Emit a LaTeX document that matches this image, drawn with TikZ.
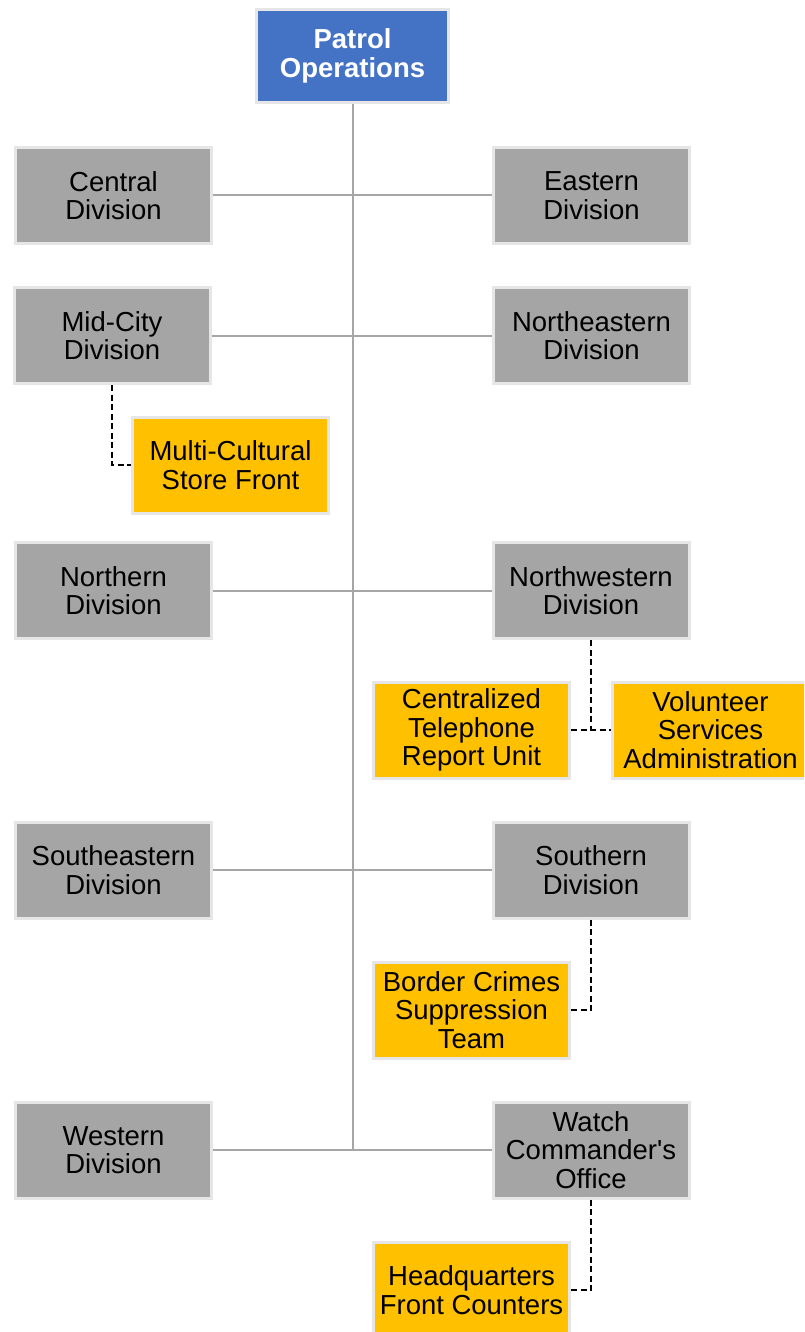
\documentclass[tikz,border=0pt]{standalone}
\usepackage{fontspec}
\newfontfamily\arialfont{Liberation Sans}
\definecolor{boxgray}{HTML}{A5A5A5}
\definecolor{boxgold}{HTML}{FFC000}
\definecolor{boxblue}{HTML}{4472C4}
\definecolor{edgegray}{HTML}{E6E6E6}
\definecolor{linegray}{HTML}{A6A6A6}
\tikzset{
  unit/.style={draw=edgegray, line width=3pt, inner sep=0pt, minimum width=196pt, minimum height=96pt,
    align=center, font=\arialfont\fontsize{27.5}{28.6}\selectfont, text=black},
  div/.style={unit, fill=boxgray},
  sub/.style={unit, fill=boxgold},
  topbox/.style={unit, fill=boxblue, text=white, font=\arialfont\fontsize{27.5}{28.6}\selectfont\bfseries,
    minimum width=192pt, minimum height=93pt},
  conn/.style={draw=linegray, line width=2pt},
  dline/.style={draw=black, line width=2pt, dash pattern=on 6pt off 3.5pt}
}
\begin{document}
\begin{tikzpicture}[x=1pt,y=-1pt]
\useasboundingbox (0,0) rectangle (804,1332);
\clip (0,0) rectangle (804,1332);
% nodes
\node[topbox] (top) at (352.5,56) {Patrol\\Operations};
\node[div] (central) at (113.5,195.5) {Central\\Division};
\node[div] (eastern) at (591.5,195.5) {Eastern\\Division};
\node[div] (midcity) at (112,335.5) {Mid-City\\Division};
\node[div] (northeastern) at (591.5,335.5) {Northeastern\\Division};
\node[sub] (multi) at (230.5,465) {Multi-Cultural\\Store Front};
\node[div] (northern) at (113.5,590.5) {Northern\\Division};
\node[div] (northwestern) at (591,590.5) {Northwestern\\Division};
\node[sub] (ctru) at (471.5,730) {Centralized\\Telephone\\Report Unit};
\node[sub] (vsa) at (710.5,730) {Volunteer\\Services\\Administration};
\node[div] (southeastern) at (113.5,870) {Southeastern\\Division};
\node[div] (southern) at (591,870) {Southern\\Division};
\node[sub] (border) at (471.5,1010) {Border Crimes\\Suppression\\Team};
\node[div] (western) at (113.5,1150) {Western\\Division};
\node[div] (watch) at (591,1150) {Watch\\Commander's\\Office};
\node[sub] (hq) at (471.5,1290) {Headquarters\\Front Counters};
% solid connectors
\coordinate (trunkend) at (353,1150);
\draw[conn] (top.south -| trunkend) -- (trunkend);
\draw[conn] (central.east) -- (eastern.west);
\draw[conn] (midcity.east) -- (northeastern.west);
\draw[conn] (northern.east) -- (northwestern.west);
\draw[conn] (southeastern.east) -- (southern.west);
\draw[conn] (western.east) -- (watch.west);
% dashed connectors
\draw[dline] (midcity.south) |- (multi.west);
\draw[dline] (northwestern.south) -- (northwestern.south |- ctru.east);
\draw[dline] (ctru.east) -- (vsa.west);
\draw[dline] (southern.south) |- (border.east);
\draw[dline] (watch.south) |- (hq.east);
\end{tikzpicture}
\end{document}
